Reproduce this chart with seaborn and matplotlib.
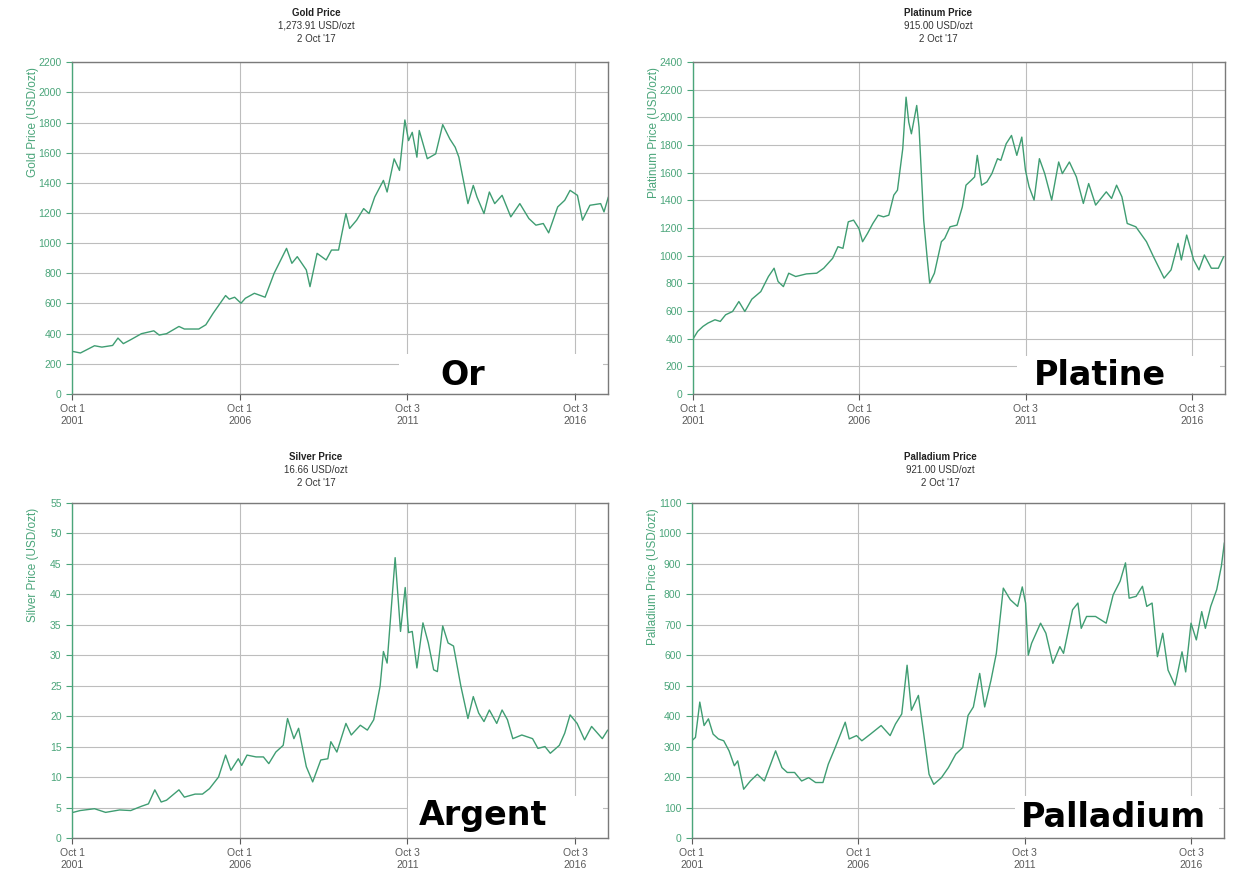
import numpy as np
import pandas as pd
import matplotlib
matplotlib.use("Agg")
import matplotlib.pyplot as plt
from matplotlib.patches import Rectangle
import seaborn as sns

# prices (USD/ozt), dates as decimal years
gold_years = [2001.75, 2002.00, 2002.42, 2002.64, 2002.96, 2003.12, 2003.28, 2003.50, 2003.82,
              2004.19, 2004.35, 2004.57, 2004.94, 2005.10, 2005.53, 2005.74, 2005.96, 2006.33,
              2006.44, 2006.60, 2006.79, 2006.92, 2007.19, 2007.51, 2007.78, 2008.15, 2008.31,
              2008.47, 2008.74, 2008.85, 2009.06, 2009.33, 2009.49, 2009.70, 2009.92, 2010.03,
              2010.24, 2010.45, 2010.61, 2010.78, 2011.04, 2011.15, 2011.36, 2011.52, 2011.68,
              2011.79, 2011.90, 2012.04, 2012.11, 2012.35, 2012.60, 2012.81, 2013.02, 2013.18,
              2013.29, 2013.56, 2013.72, 2013.83, 2014.04, 2014.20, 2014.36, 2014.58, 2014.84,
              2015.11, 2015.38, 2015.59, 2015.81, 2015.97, 2016.24, 2016.45, 2016.61, 2016.83,
              2016.98, 2017.20, 2017.52, 2017.62, 2017.75]
gold_prices = [282, 271, 319, 310, 321, 370, 333, 359, 399,
               418, 390, 399, 447, 430, 430, 458, 535, 652,
               628, 641, 601, 634, 667, 641, 800, 965, 866,
               910, 822, 711, 932, 888, 954, 954, 1196, 1097,
               1152, 1229, 1196, 1306, 1416, 1339, 1559, 1482, 1817,
               1680, 1735, 1570, 1747, 1560, 1592, 1786, 1691, 1636,
               1570, 1262, 1383, 1306, 1196, 1339, 1262, 1317, 1174,
               1262, 1163, 1119, 1130, 1068, 1240, 1284, 1350, 1317,
               1152, 1251, 1262, 1207, 1306]

platinum_years = [2001.75, 2001.89, 2002.05, 2002.20, 2002.41, 2002.57, 2002.73, 2002.94, 2003.13,
                  2003.31, 2003.52, 2003.79, 2004.02, 2004.19, 2004.31, 2004.47, 2004.63, 2004.84,
                  2005.16, 2005.47, 2005.68, 2005.95, 2006.11, 2006.26, 2006.42, 2006.58, 2006.74,
                  2006.85, 2007.00, 2007.16, 2007.32, 2007.48, 2007.64, 2007.79, 2007.90, 2008.06,
                  2008.16, 2008.24, 2008.32, 2008.48, 2008.55, 2008.69, 2008.80, 2008.87, 2009.01,
                  2009.22, 2009.32, 2009.48, 2009.69, 2009.85, 2009.96, 2010.12, 2010.22, 2010.30,
                  2010.43, 2010.59, 2010.74, 2010.91, 2011.01, 2011.17, 2011.33, 2011.49, 2011.64,
                  2011.75, 2011.86, 2012.01, 2012.17, 2012.33, 2012.54, 2012.75, 2012.86, 2013.07,
                  2013.28, 2013.49, 2013.65, 2013.86, 2014.18, 2014.34, 2014.49, 2014.65, 2014.81,
                  2015.07, 2015.39, 2015.60, 2015.92, 2016.13, 2016.34, 2016.44, 2016.60, 2016.81,
                  2016.97, 2017.13, 2017.34, 2017.55, 2017.71]
platinum_prices = [397, 452, 488, 512, 536, 524, 572, 596, 668,
                   596, 685, 740, 849, 909, 813, 776, 873, 849,
                   868, 873, 909, 981, 1065, 1053, 1245, 1257, 1197,
                   1101, 1161, 1233, 1293, 1281, 1293, 1438, 1474, 1774,
                   2147, 1967, 1882, 2087, 1930, 1257, 969, 801, 873,
                   1101, 1125, 1209, 1221, 1353, 1510, 1546, 1570, 1726,
                   1510, 1534, 1594, 1702, 1690, 1810, 1870, 1726, 1858,
                   1618, 1498, 1402, 1702, 1594, 1402, 1678, 1594, 1678,
                   1570, 1378, 1522, 1366, 1462, 1414, 1510, 1426, 1233,
                   1209, 1101, 993, 837, 897, 1089, 969, 1149, 969,
                   897, 1005, 909, 909, 993]

silver_years = [2001.78, 2001.99, 2002.42, 2002.75, 2003.17, 2003.50, 2003.82, 2004.03, 2004.22,
                2004.41, 2004.57, 2004.94, 2005.10, 2005.42, 2005.64, 2005.85, 2006.12, 2006.33,
                2006.49, 2006.71, 2006.81, 2006.97, 2007.24, 2007.46, 2007.62, 2007.83, 2008.05,
                2008.18, 2008.37, 2008.51, 2008.74, 2008.93, 2009.17, 2009.38, 2009.47, 2009.65,
                2009.92, 2010.08, 2010.35, 2010.56, 2010.75, 2010.94, 2011.04, 2011.15, 2011.39,
                2011.55, 2011.69, 2011.79, 2011.90, 2012.04, 2012.22, 2012.38, 2012.54, 2012.65,
                2012.81, 2012.97, 2013.13, 2013.35, 2013.56, 2013.72, 2013.88, 2014.04, 2014.20,
                2014.42, 2014.58, 2014.74, 2014.90, 2015.17, 2015.49, 2015.65, 2015.86, 2016.02,
                2016.29, 2016.45, 2016.61, 2016.82, 2017.04, 2017.25, 2017.57, 2017.73]
silver_prices = [4.2, 4.5, 4.8, 4.2, 4.6, 4.5, 5.2, 5.6, 7.9,
                 5.9, 6.2, 7.9, 6.7, 7.2, 7.2, 8.1, 10.0, 13.6,
                 11.1, 13.0, 11.9, 13.6, 13.3, 13.3, 12.2, 14.1, 15.2,
                 19.6, 16.3, 18.0, 11.7, 9.2, 12.8, 13.0, 15.8, 14.1,
                 18.8, 16.9, 18.5, 17.7, 19.4, 24.9, 30.6, 28.7, 46.0,
                 33.9, 41.1, 33.7, 33.9, 27.9, 35.3, 32.0, 27.6, 27.3,
                 34.8, 32.0, 31.5, 24.9, 19.6, 23.2, 20.5, 19.1, 21.0,
                 18.8, 21.0, 19.4, 16.3, 16.9, 16.3, 14.7, 15.0, 13.9,
                 15.2, 17.2, 20.2, 18.8, 16.1, 18.3, 16.3, 17.7]

palladium_years = [2001.75, 2001.86, 2001.99, 2002.12, 2002.25, 2002.39, 2002.55, 2002.71, 2002.87,
                   2003.03, 2003.13, 2003.31, 2003.51, 2003.72, 2003.93, 2004.12, 2004.27, 2004.46,
                   2004.62, 2004.84, 2005.05, 2005.26, 2005.47, 2005.69, 2005.85, 2006.06, 2006.22,
                   2006.36, 2006.48, 2006.70, 2006.86, 2007.12, 2007.44, 2007.71, 2007.87, 2008.06,
                   2008.22, 2008.35, 2008.56, 2008.72, 2008.88, 2009.02, 2009.25, 2009.46, 2009.68,
                   2009.89, 2010.05, 2010.21, 2010.40, 2010.55, 2010.74, 2010.90, 2011.11, 2011.32,
                   2011.54, 2011.68, 2011.78, 2011.86, 2011.96, 2012.23, 2012.39, 2012.60, 2012.81,
                   2012.92, 2013.19, 2013.35, 2013.45, 2013.61, 2013.88, 2014.20, 2014.41, 2014.62,
                   2014.78, 2014.89, 2015.10, 2015.29, 2015.42, 2015.58, 2015.74, 2015.90, 2016.06,
                   2016.27, 2016.48, 2016.59, 2016.75, 2016.91, 2017.07, 2017.18, 2017.34, 2017.52,
                   2017.66, 2017.75]
palladium_prices = [319, 330, 446, 369, 391, 341, 325, 319, 286,
                    237, 253, 160, 187, 209, 187, 242, 286, 231,
                    215, 215, 187, 198, 182, 182, 242, 297, 341,
                    380, 325, 336, 319, 341, 369, 336, 374, 407,
                    567, 419, 468, 341, 209, 176, 198, 231, 275,
                    297, 402, 430, 540, 430, 518, 606, 820, 782,
                    760, 824, 771, 600, 639, 705, 672, 573, 628,
                    606, 749, 771, 688, 727, 727, 705, 798, 843,
                    903, 787, 793, 826, 760, 771, 595, 672, 551,
                    501, 611, 545, 705, 650, 743, 688, 760, 815,
                    892, 969]

tick_dates = pd.to_datetime(["2001-10-01", "2006-10-01", "2011-10-03", "2016-10-03"])
tick_labels = ["Oct 1\n2001", "Oct 1\n2006", "Oct 3\n2011", "Oct 3\n2016"]
x_start, x_end = pd.Timestamp("2001-10-01"), pd.Timestamp("2017-10-02")

line_green = "#3f9d72"
axis_green = "#4aa57a"


def to_dates(years):
    years = np.asarray(years, dtype=float)
    start = pd.to_datetime([f"{int(y)}-01-01" for y in years])
    return start + pd.to_timedelta((years % 1) * 365.25, unit="D")


sns.set_theme(style="white")
plt.rcParams["font.family"] = ["Liberation Sans", "DejaVu Sans"]

fig = plt.figure(figsize=(12.33, 8.89), dpi=100)
fig.patch.set_facecolor("white")

panels = [
    dict(name="Gold", years=gold_years, prices=gold_prices, price="1,273.91 USD/ozt",
         ymax=2200, step=200, tag="Or", rect=[0.0584, 0.557, 0.435, 0.373],
         title_xy=(316, 13), box_x=0.61, box_h=0.115, tag_xy=(0.728, 0.056)),
    dict(name="Platinum", years=platinum_years, prices=platinum_prices, price="915.00 USD/ozt",
         ymax=2400, step=200, tag="Platine", rect=[0.562, 0.557, 0.4315, 0.373],
         title_xy=(938, 13), box_x=0.61, box_h=0.11, tag_xy=(0.765, 0.056)),
    dict(name="Silver", years=silver_years, prices=silver_prices, price="16.66 USD/ozt",
         ymax=55, step=5, tag="Argent", rect=[0.0584, 0.0574, 0.435, 0.377],
         title_xy=(316, 457), box_x=0.627, box_h=0.12, tag_xy=(0.767, 0.068)),
    dict(name="Palladium", years=palladium_years, prices=palladium_prices, price="921.00 USD/ozt",
         ymax=1100, step=100, tag="Palladium", rect=[0.561, 0.0574, 0.432, 0.377],
         title_xy=(940, 457), box_x=0.606, box_h=0.12, tag_xy=(0.792, 0.06)),
]

W, H = 1233, 889
for p in panels:
    ax = fig.add_axes(p["rect"])
    sns.lineplot(x=to_dates(p["years"]), y=p["prices"], ax=ax,
                 color=line_green, linewidth=1.0)

    ax.set_xlim(x_start, x_end)
    ax.set_ylim(0, p["ymax"])
    ax.set_yticks(np.arange(0, p["ymax"] + p["step"], p["step"]))
    ax.set_xticks(tick_dates)
    ax.set_xticklabels(tick_labels)
    ax.set_axisbelow(True)
    ax.grid(True, color="#bdbdbd", linewidth=0.8)

    ax.tick_params(axis="y", colors=axis_green, labelsize=7.5, length=4, width=0.8, left=True)
    ax.tick_params(axis="x", colors="#5a5a5a", labelsize=7.5, length=4, width=0.8, bottom=True)
    for side in ["top", "right", "bottom"]:
        ax.spines[side].set_color("#7a7a7a")
        ax.spines[side].set_linewidth(1.0)
    ax.spines["left"].set_color(axis_green)
    ax.spines["left"].set_linewidth(1.0)

    ax.set_xlabel("")
    ax.set_ylabel(f"{p['name']} Price (USD/ozt)", color=axis_green, fontsize=8.5,
                  loc="top")
    ax.yaxis.set_label_coords(-0.062, 0.985)

    # three-line header above each panel
    tx, ty = p["title_xy"]
    fig.text(tx / W, 1 - ty / H, f"{p['name']} Price", ha="center", va="center",
             fontsize=7, fontweight="bold", color="#222222")
    fig.text(tx / W, 1 - (ty + 13) / H, p["price"], ha="center", va="center",
             fontsize=7, color="#333333")
    fig.text(tx / W, 1 - (ty + 26) / H, "2 Oct '17", ha="center", va="center",
             fontsize=7, color="#333333")

    # big French label on a white patch in the lower right corner
    ax.add_patch(Rectangle((p["box_x"], 0.004), 0.99 - p["box_x"], p["box_h"],
                           transform=ax.transAxes, facecolor="white",
                           edgecolor="none", zorder=3))
    ax.text(p["tag_xy"][0], p["tag_xy"][1], p["tag"], transform=ax.transAxes,
            ha="center", va="center", fontsize=24, fontweight="bold",
            family="DejaVu Sans", color="black", zorder=4)

fig.savefig("out.png", dpi=100, facecolor="white")
